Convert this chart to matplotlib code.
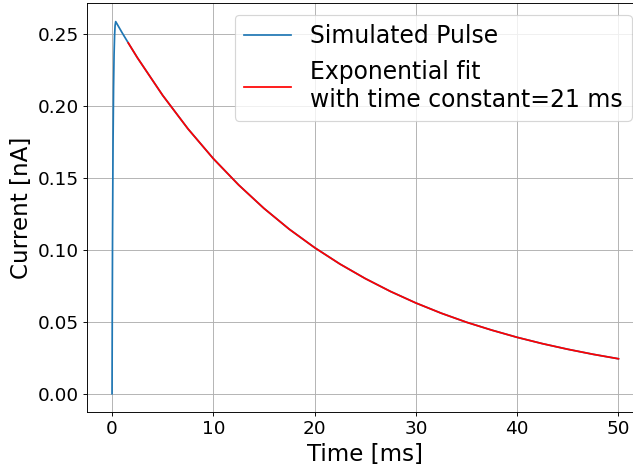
import numpy as np
import matplotlib
matplotlib.use("Agg")
import matplotlib.pyplot as plt

# impulso simulato
t_pulse = [0.0, 0.02, 0.05, 0.1, 0.15, 0.2, 0.25, 0.3, 0.36, 0.5, 1.0, 1.6,
           2.5, 5.0, 7.5, 10.0, 12.5, 15.0, 17.5, 20.0, 22.5, 25.0, 27.5,
           30.0, 32.5, 35.0, 37.5, 40.0, 42.5, 45.0, 47.5, 50.0]
i_pulse = [0.0, 0.05, 0.11, 0.175, 0.213, 0.236, 0.249, 0.256, 0.2588, 0.2571,
           0.2510, 0.2440, 0.2337, 0.2075, 0.1842, 0.1635, 0.1452, 0.1289,
           0.1144, 0.1016, 0.0902, 0.0801, 0.0711, 0.0631, 0.0560, 0.0497,
           0.0442, 0.0392, 0.0348, 0.0309, 0.0274, 0.0243]

# fit esponenziale
t_fit = [1.6, 2.5, 5.0, 7.5, 10.0, 12.5, 15.0, 17.5, 20.0, 22.5, 25.0, 27.5,
         30.0, 32.5, 35.0, 37.5, 40.0, 42.5, 45.0, 47.5, 50.0]
i_fit = [0.2440, 0.2337, 0.2075, 0.1842, 0.1635, 0.1452, 0.1289, 0.1144,
         0.1016, 0.0902, 0.0801, 0.0711, 0.0631, 0.0560, 0.0497, 0.0442,
         0.0392, 0.0348, 0.0309, 0.0274, 0.0243]
tau = 21

dpi = 83
fig = plt.figure(figsize=(633/dpi, 468/dpi), dpi=dpi)
ax = fig.add_axes([0.137, 0.119, 0.880, 0.8746])

ax.plot(t_pulse, i_pulse, label="Simulated Pulse")
ax.plot(t_fit, i_fit, color="red",
        label="Exponential fit\nwith time constant=%d ms" % tau)

ax.set_xlabel("Time [ms]", fontsize=20)
ax.set_ylabel("Current [nA]", fontsize=20)
ax.tick_params(labelsize=16)
ax.set_xticks(np.arange(0, 51, 10))
ax.set_yticks(np.arange(0, 0.26, 0.05))
ax.grid()
ax.legend(fontsize=20.4, loc="upper right")

fig.savefig("out.png", dpi=dpi)
